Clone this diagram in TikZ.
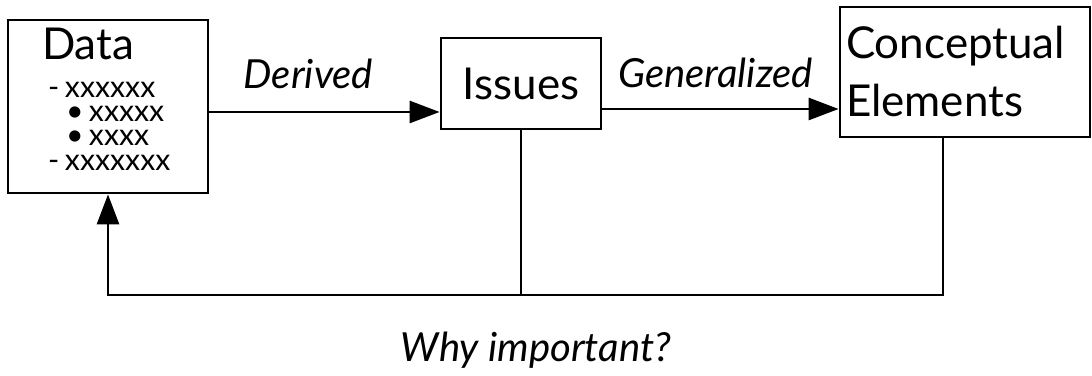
\documentclass[tikz,border=0pt]{standalone}
\usepackage{fontspec}
\setmainfont{Lato}
\usetikzlibrary{arrows.meta}

\newcommand{\boxfont}{\fontsize{12.5}{16.5}\selectfont}
\newcommand{\edgefont}{\fontsize{11.4}{13}\selectfont\itshape}
\newcommand{\itemfont}{\fontsize{8.6}{6.8}\selectfont}
\newcommand{\dashitem}[1]{\mbox{\hspace*{0.06cm}\makebox[0.17cm][l]{-}#1}\par}
\newcommand{\dotitem}[1]{\mbox{\hspace*{0.24cm}\makebox[0.23cm][l]{\textbullet}#1}\par}

\begin{document}
\begin{tikzpicture}[>={Triangle[length=3mm, width=2.2mm]}, line width=0.8pt,
    box/.style={draw, rectangle, font=\boxfont}]

\useasboundingbox (0,0) rectangle (10.92,3.76);

% Nodes
\node[box, minimum width=2cm, minimum height=1.73cm, text width=1.32cm,
      inner xsep=0.34cm, inner ysep=0pt, align=left] (Data) at (1.08, 2.695)
  {\mbox{Data}\par\vspace{1.35mm}
   \itemfont\baselineskip=0.243cm
   \dashitem{xxxxxx}
   \dotitem{xxxxx}
   \dotitem{xxxx}
   \dashitem{xxxxxxx}
   \vspace{1.5mm}\hrule height 0pt};
\node[box, minimum width=1.6cm, minimum height=0.91cm] (Issues) at (5.21, 2.925) {Issues};
\node[box, minimum width=2.5cm, minimum height=1.30cm, align=left, inner xsep=0.06cm,
      text width=2.38cm] (Concept) at (9.65, 3.04) {Conceptual\\Elements};
\node[font=\edgefont, anchor=base] (why) at (5.36, 0.14) {Why important?};

% Arrows - horizontal
\draw[->] (Data.east |- 0,2.64) -- (Issues.west |- 0,2.64)
  node[pos=0.43, above=1mm, font=\edgefont] {Derived};
\draw[->] (Issues.east |- 0,2.67) -- (Concept.west |- 0,2.67)
  node[midway, above=0.8mm, xshift=-0.5mm, font=\edgefont] {Generalized};

% Feedback loop
\coordinate (loop) at (9.43, 0.81);
\draw (Issues.south) -- (Issues.south |- loop);
\draw[->] (Concept.south -| loop) -- (loop) -| (Data.south);

\end{tikzpicture}
\end{document}
